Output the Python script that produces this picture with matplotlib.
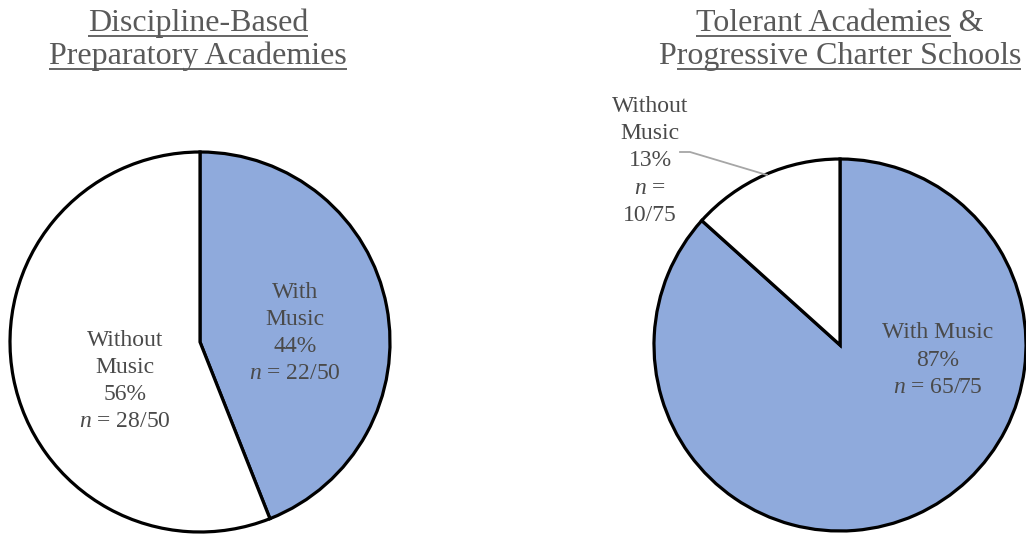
import matplotlib
matplotlib.use("Agg")
import matplotlib.pyplot as plt

plt.rcParams['font.family'] = ['Liberation Serif', 'DejaVu Serif']
plt.rcParams['mathtext.fontset'] = 'custom'
plt.rcParams['mathtext.rm'] = 'Liberation Serif'
plt.rcParams['mathtext.it'] = 'Liberation Serif:italic'

# Data
categories = ["With Music", "Without Music"]
left_counts = [22, 28]
left_total = 50
right_counts = [65, 10]
right_total = 75
left_title = ["Discipline-Based", "Preparatory Academies"]
right_title = ["Tolerant Academies &", "Progressive Charter Schools"]

colors = ["#8FAADC", "#FFFFFF"]
txt_col = "#595959"
lbl_col = "#4A4A4A"
W, H = 1026, 538

fig = plt.figure(figsize=(W / 100, H / 100), dpi=100)
ax = fig.add_axes([0, 0, 1, 1])

def Y(py):
    return H - py

wp = dict(edgecolor='black', linewidth=2.3)
ax.pie(left_counts, colors=colors, startangle=90, counterclock=False,
       center=(200, Y(342)), radius=190, wedgeprops=wp, frame=True)
ax.pie(right_counts, colors=colors, startangle=90, counterclock=False,
       center=(840, Y(345)), radius=186, wedgeprops=wp, frame=True)
ax.set_xlim(0, W)
ax.set_ylim(0, H)
ax.set_aspect('equal')
ax.axis('off')

def pct(c, t):
    return f"{round(100 * c / t)}%"

fs = 17
ls = 1.38
ax.text(295, Y(333), f"With\nMusic\n{pct(left_counts[0], left_total)}\n$n$ = {left_counts[0]}/{left_total}",
        ha='center', va='center', fontsize=fs, color=lbl_col, linespacing=ls)
ax.text(125, Y(381), f"Without\nMusic\n{pct(left_counts[1], left_total)}\n$n$ = {left_counts[1]}/{left_total}",
        ha='center', va='center', fontsize=fs, color=lbl_col, linespacing=ls)
ax.text(938, Y(360), f"With Music\n{pct(right_counts[0], right_total)}\n$n$ = {right_counts[0]}/{right_total}",
        ha='center', va='center', fontsize=fs, color=lbl_col, linespacing=ls)
ax.text(650, Y(161), f"Without\nMusic\n{pct(right_counts[1], right_total)}\n$n$ =\n{right_counts[1]}/{right_total}",
        ha='center', va='center', fontsize=fs, color=lbl_col, linespacing=ls)
ax.plot([680, 690, 767], [Y(152), Y(152), Y(175)], color='#A6A6A6', lw=1.3)

# Titles with underlines
tfs = 23
fig.canvas.draw()
renderer = fig.canvas.get_renderer()

def width_px(s):
    t = ax.text(0, 0, s, fontsize=tfs)
    w = t.get_window_extent(renderer).width
    t.remove()
    return w

def title_line(cx, py, s, ul_start=None, ul_end=None):
    ax.text(cx, Y(py), s, ha='center', va='baseline', fontsize=tfs, color=txt_col)
    w = width_px(s)
    x0 = cx - w / 2
    a = x0 + (width_px(ul_start) if ul_start else 0)
    b = x0 + (width_px(ul_end) if ul_end else w)
    ax.plot([a, b], [Y(py + 5), Y(py + 5)], color=txt_col, lw=1.3, solid_capstyle='butt')

title_line(198, 31, left_title[0])
title_line(198, 64, left_title[1])
title_line(840, 31, right_title[0], ul_end="Tolerant Academies")
title_line(840, 64, right_title[1], ul_start="P")

fig.savefig("out.png", dpi=100)
